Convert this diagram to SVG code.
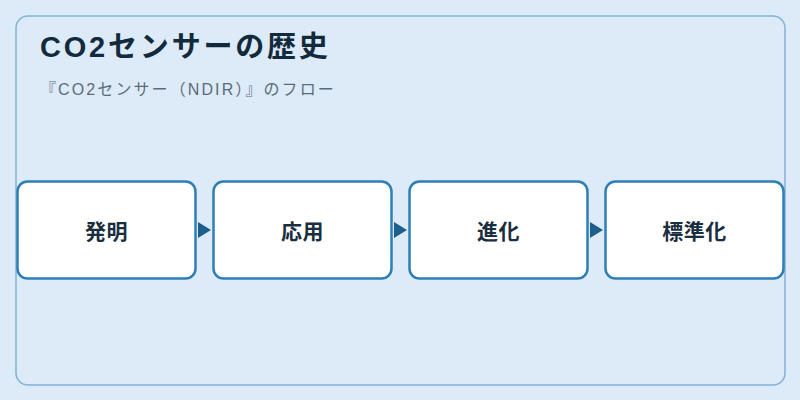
<svg xmlns="http://www.w3.org/2000/svg" width="800" height="400" viewBox="0 0 800 400">
<defs>
<style>
.frame{fill:#dcebf7;stroke:#7fb3d5;stroke-width:1.5}
.node rect{fill:#ffffff;stroke:#2e7fb8;stroke-width:2.5}
.node text{font-family:"Liberation Sans","Noto Sans CJK JP",sans-serif;font-size:21px;font-weight:bold;fill:#1a2e40;text-anchor:middle;dominant-baseline:central;letter-spacing:0.5px}
.title{font-family:"Liberation Sans","Noto Sans CJK JP",sans-serif;font-size:29px;font-weight:bold;fill:#13293d;letter-spacing:2.8px}
.sub{font-family:"Liberation Sans","Noto Sans CJK JP",sans-serif;font-size:16px;fill:#5a6b7b;letter-spacing:2.1px}
.arrow{fill:#1f5f8b}
</style>
</defs>
<rect x="0" y="0" width="800" height="400" fill="#dcebf7"/>
<rect class="frame" x="16" y="16" width="769" height="369" rx="12"/>
<text class="title" x="40" y="57">CO2センサーの歴史</text>
<text class="sub" x="40" y="95">『CO2センサー（NDIR）』のフロー</text>
<g id="connectors">
<polygon class="arrow" points="198,222 211,230 198,238"/>
<polygon class="arrow" points="394,222 407,230 394,238"/>
<polygon class="arrow" points="590,222 603,230 590,238"/>
</g>
<g id="node1" class="node"><rect x="17.5" y="181.5" width="178" height="97" rx="10"/><text x="106.5" y="231">発明</text></g>
<g id="node2" class="node"><rect x="213.5" y="181.5" width="178" height="97" rx="10"/><text x="302.5" y="231">応用</text></g>
<g id="node3" class="node"><rect x="409.5" y="181.5" width="178" height="97" rx="10"/><text x="498.5" y="231">進化</text></g>
<g id="node4" class="node"><rect x="605.5" y="181.5" width="178" height="97" rx="10"/><text x="694.5" y="231">標準化</text></g>
</svg>
